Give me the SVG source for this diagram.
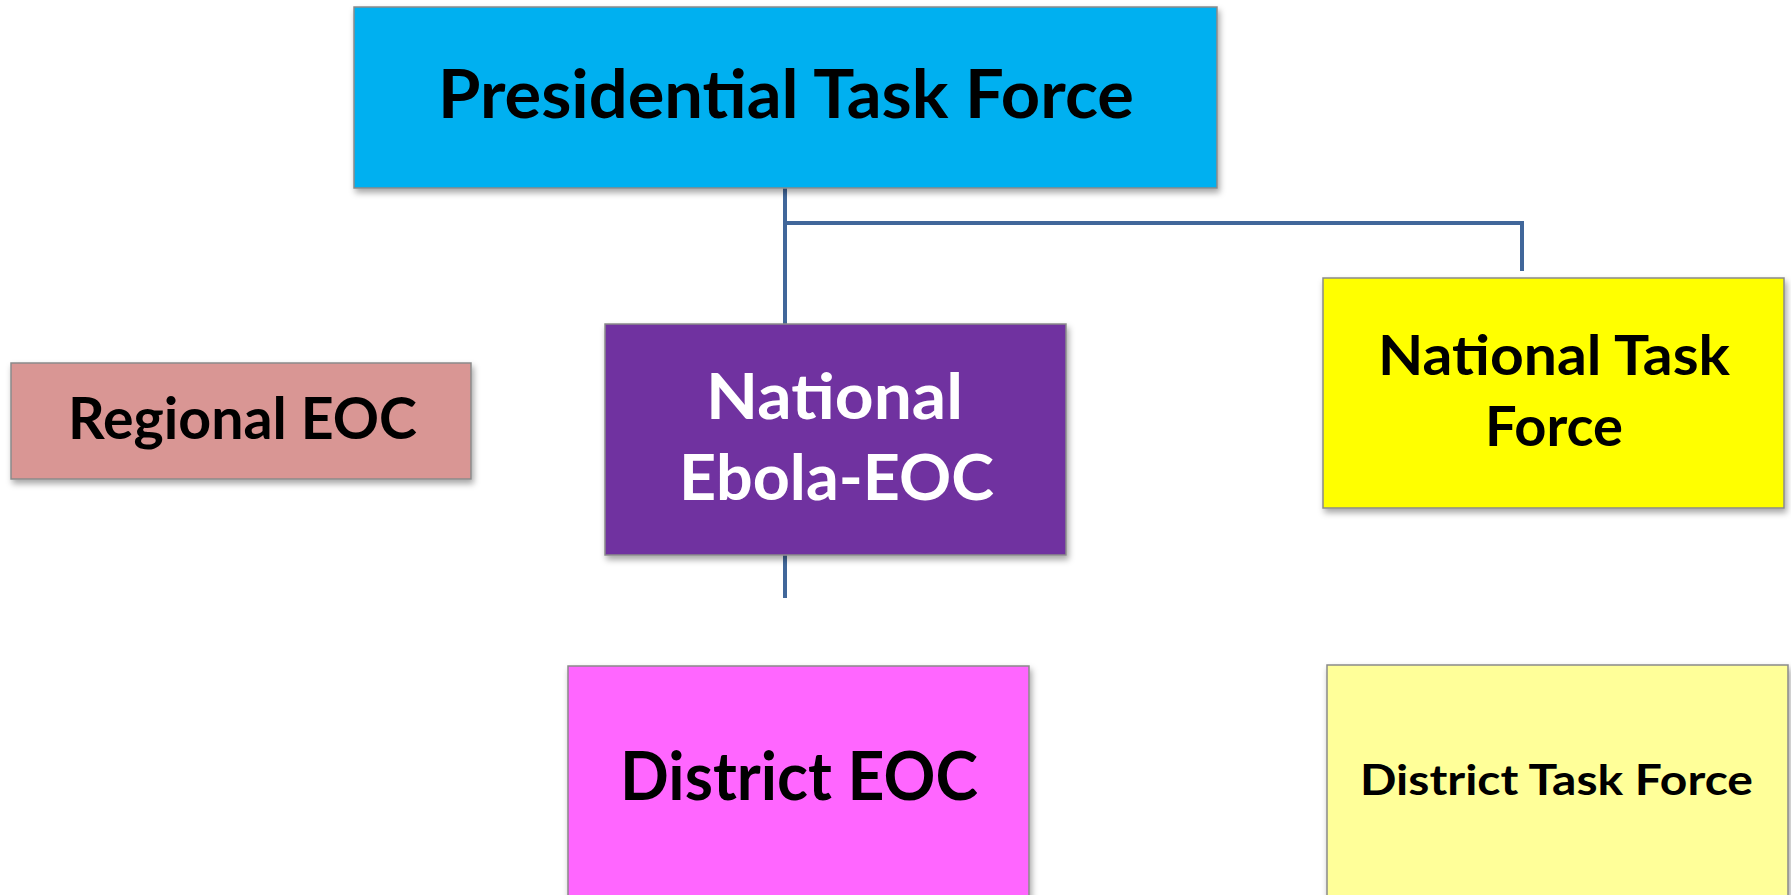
<svg xmlns="http://www.w3.org/2000/svg" width="1791" height="895" viewBox="0 0 1791 895">
<defs>
<filter id="sh" x="-5%" y="-5%" width="115%" height="125%">
<feDropShadow dx="2" dy="4" stdDeviation="3" flood-color="#000" flood-opacity="0.35"/>
</filter>
<style>
.box{stroke:#8a8a8a;stroke-width:1.5;filter:url(#sh)}
.t{font-family:Lato,"Liberation Sans",sans-serif;font-weight:bold;text-anchor:middle;fill:#000}
.w{fill:#fff}
.conn{fill:none;stroke:#41679a;stroke-width:4}
</style>
</defs>
<rect width="1791" height="895" fill="#fff"/>
<g id="connectors">
<path class="conn" d="M785 188 V324"/>
<path class="conn" d="M785 223 H1522 V271"/>
<path class="conn" d="M785 555 V598"/>
</g>
<g id="presidential">
<rect class="box" x="354" y="7" width="863" height="181" fill="#00B0F0"/>
<text class="t" x="786" y="118" font-size="66" textLength="696" lengthAdjust="spacingAndGlyphs">Presidential Task Force</text>
</g>
<g id="regional">
<rect class="box" x="11" y="363" width="460" height="116" fill="#D99694"/>
<text class="t" x="242.5" y="439" font-size="57" textLength="349" lengthAdjust="spacingAndGlyphs">Regional EOC</text>
</g>
<g id="national-ebola-eoc">
<rect class="box" x="605" y="324" width="461" height="231" fill="#7030A0"/>
<text class="t w" x="834.5" y="419" font-size="64" textLength="257" lengthAdjust="spacingAndGlyphs">National</text>
<text class="t w" x="836.5" y="500" font-size="64" textLength="315" lengthAdjust="spacingAndGlyphs">Ebola-EOC</text>
</g>
<g id="national-task-force">
<rect class="box" x="1323" y="278" width="461" height="230" fill="#FFFF00"/>
<text class="t" x="1554" y="375" font-size="56" textLength="352" lengthAdjust="spacingAndGlyphs">National Task</text>
<text class="t" x="1554" y="446" font-size="56" textLength="138" lengthAdjust="spacingAndGlyphs">Force</text>
</g>
<g id="district-eoc">
<rect class="box" x="568" y="666" width="461" height="240" fill="#FF66FF"/>
<text class="t" x="799" y="800" font-size="66" textLength="358" lengthAdjust="spacingAndGlyphs">District EOC</text>
</g>
<g id="district-task-force">
<rect class="box" x="1327" y="665" width="461" height="240" fill="#FFFF99"/>
<text class="t" x="1556.5" y="795" font-size="42" textLength="393" lengthAdjust="spacingAndGlyphs">District Task Force</text>
</g>
</svg>
